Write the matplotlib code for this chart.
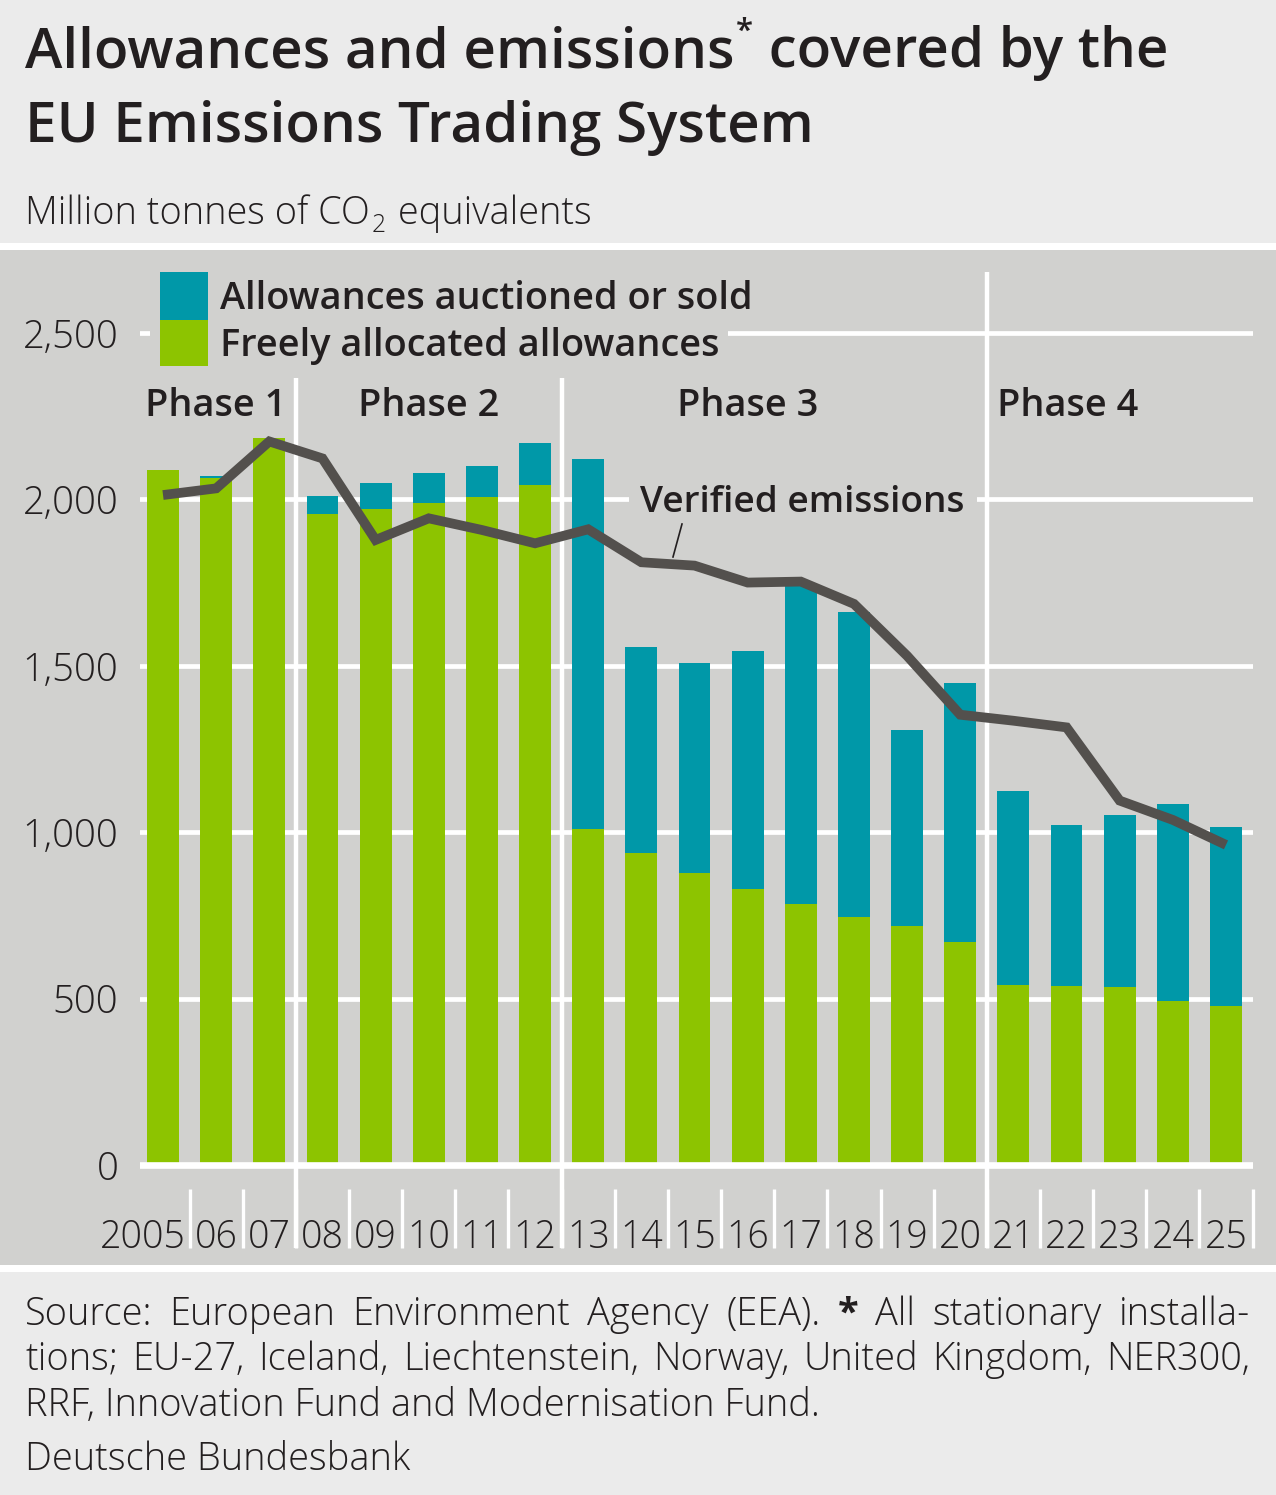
import matplotlib
matplotlib.use("Agg")
import matplotlib.pyplot as plt
from matplotlib.patches import Rectangle
from matplotlib.lines import Line2D
import numpy as np

# --- data (million tonnes CO2e) ---
years = ["2005", "06", "07", "08", "09", "10", "11", "12", "13", "14", "15",
         "16", "17", "18", "19", "20", "21", "22", "23", "24", "25"]
free_alloc = [2088, 2063, 2185, 1956, 1970, 1988, 2007, 2043, 1010, 937, 877,
              829, 784, 745, 718, 670, 541, 538, 534, 493, 478]
auctioned = [0, 7, 0, 54, 78, 92, 93, 125, 1110, 618, 630,
             716, 961, 918, 589, 779, 584, 483, 517, 592, 539]
verified = [2013, 2033, 2174, 2123, 1878, 1943, 1908, 1868, 1910, 1811, 1801,
            1750, 1753, 1686, 1530, 1353, 1335, 1315, 1095, 1037, 962]
phases = ["Phase 1", "Phase 2", "Phase 3", "Phase 4"]
phase_years = [3, 5, 8, 5]
yticks = [0, 500, 1000, 1500, 2000, 2500]
ytick_labels = ["0", "500", "1,000", "1,500", "2,000", "2,500"]

GREEN = "#8dc400"
TEAL = "#0098a8"
LINE = "#53504d"
TXT = "#231f20"
HEAD_BG = "#ebebeb"
PANEL_BG = "#d1d1cf"
FONT = "Open Sans"
LIGHT = "light"

W, H = 1276, 1495
plt.rcParams["font.family"] = [FONT, "DejaVu Sans"]

fig = plt.figure(figsize=(W / 100, H / 100), dpi=100)
fig.patch.set_facecolor("white")
renderer = fig.canvas.get_renderer()


def fx(px):
    return px / W


def fy(py):
    return 1 - py / H


def band(y0, y1, color, z=-5):
    fig.patches.append(Rectangle((0, fy(y1)), 1, (y1 - y0) / H, transform=fig.transFigure,
                                 facecolor=color, edgecolor="none", zorder=z))


def ftext(px, py, s, **kw):
    kw.setdefault("color", TXT)
    kw.setdefault("va", "baseline")
    return fig.text(fx(px), fy(py), s, **kw)


def width(t):
    return t.get_window_extent(renderer).width


def fit(t, target):
    t.set_fontsize(t.get_fontsize() * target / width(t))
    return t.get_fontsize()


# background bands
band(0, 243, HEAD_BG)
band(250, 1265, PANEL_BG)
band(1272, H, HEAD_BG)

# --- title ---
t2 = ftext(25, 142, "EU Emissions Trading System", fontsize=40, weight="semibold")
tsize = fit(t2, 787)
t1 = ftext(25, 67, "Allowances and emissions", fontsize=tsize, weight="semibold")
xa = 25 + width(t1)
ast = ftext(xa + 1, 40, "*", fontsize=tsize * 0.55, weight="semibold")
ftext(xa + width(ast) + 2, 67, " covered by the", fontsize=tsize, weight="semibold")

# subtitle
s1 = ftext(25, 224, "Million tonnes of CO", fontsize=26, weight=LIGHT)
ssize = fit(s1, 345)
sub = ftext(25 + width(s1) + 2, 232, "2", fontsize=ssize * 0.65, weight=LIGHT)
ftext(25 + width(s1) + width(sub) + 4, 224, " equivalents", fontsize=ssize, weight=LIGHT)

# --- chart axes ---
ax = fig.add_axes([fx(140), fy(1250), (1253 - 140) / W, (1250 - 272) / H])
ax.patch.set_alpha(0)
ax.set_xlim(-0.433, 20.508)
ax.set_ylim(-255, 2683)
for s in ax.spines.values():
    s.set_visible(False)
ax.set_xticks([])
ax.set_yticks(yticks, ytick_labels)
ax.tick_params(axis="y", length=0, pad=15.5, labelsize=27.5, labelcolor=TXT)
for lab in ax.get_yticklabels():
    lab.set_fontweight(LIGHT)

x = np.arange(len(years))

# gridlines
for v in yticks:
    ax.axhline(v, color="white", lw=4.8 if v == 0 else 3.4, zorder=1 if v else 2.5)

# bars
ax.bar(x, free_alloc, width=0.6, color=GREEN, linewidth=0, zorder=2)
ax.bar(x, auctioned, width=0.6, bottom=free_alloc, color=TEAL, linewidth=0, zorder=2)

# verified emissions line
ax.plot(x, verified, color=LINE, lw=7, zorder=4, solid_joinstyle="miter",
        solid_capstyle="butt")

# phase separators and year label separators
bounds = np.cumsum(phase_years)[:-1] - 0.5
xt = ax.get_xaxis_transform()
for i, b in enumerate(bounds):
    top = 1.0 if i == len(bounds) - 1 else (1250 - 378) / 978
    ax.plot([b, b], [0.002, top], transform=xt, color="white", lw=3.2, zorder=3,
            solid_capstyle="butt", clip_on=False)
for b in x + 0.5:
    ax.plot([b, b], [0.002, (1250 - 1189) / 978], transform=xt, color="white",
            lw=2.4, zorder=3, solid_capstyle="butt", clip_on=False)

# year labels
for i, lab in enumerate(years):
    if len(lab) == 4:
        ax.text(i + 0.42, 0.002, lab, transform=xt, ha="right", va="baseline",
                fontsize=27, color=TXT, weight=LIGHT)
    else:
        ax.text(i, 0.002, lab, transform=xt, ha="center", va="baseline",
                fontsize=27, color=TXT, weight=LIGHT)

starts = np.concatenate([[0], np.cumsum(phase_years)[:-1]])

# legend
fig.patches.append(Rectangle((fx(150), fy(341)), (728 - 150) / W, 16 / H,
                             transform=fig.transFigure, facecolor=PANEL_BG,
                             edgecolor="none", zorder=1))
fig.patches.append(Rectangle((fx(160), fy(320)), 48 / W, 48 / H, transform=fig.transFigure,
                             facecolor=TEAL, edgecolor="none", zorder=2))
fig.patches.append(Rectangle((fx(160), fy(366)), 48 / W, 46 / H, transform=fig.transFigure,
                             facecolor=GREEN, edgecolor="none", zorder=2))
l1 = ftext(220, 309, "Allowances auctioned or sold", fontsize=26, weight="semibold", zorder=3)
lsize = fit(l1, 532)
ftext(220, 356, "Freely allocated allowances", fontsize=lsize, weight="semibold", zorder=3)

# phase labels
for name, st, n in zip(phases, starts, phase_years):
    if name == "Phase 4":
        ax.text(st - 0.5 + 0.19, 2250, name, ha="left", va="baseline",
                fontsize=lsize, weight="semibold", color=TXT)
    elif name == "Phase 3":
        ax.text(st + (n - 1) / 2 - 0.5, 2250, name, ha="center", va="baseline",
                fontsize=lsize, weight="semibold", color=TXT)
    else:
        ax.text(st + (n - 1) / 2, 2250, name, ha="center", va="baseline",
                fontsize=lsize, weight="semibold", color=TXT)

# verified emissions label with gap in the gridline
fig.patches.append(Rectangle((fx(629), fy(504)), (977 - 629) / W, 10 / H,
                             transform=fig.transFigure, facecolor=PANEL_BG,
                             edgecolor="none", zorder=1))
ve = ftext(640, 512, "Verified emissions", fontsize=lsize, weight="semibold", zorder=3)
fit(ve, 325)
fig.lines.append(Line2D([fx(682), fx(673)], [fy(524), fy(557)], transform=fig.transFigure,
                        color=TXT, lw=1.2, zorder=3))

# --- footer (justified) ---
f3 = ftext(25, 1416, "RRF, Innovation Fund and Modernisation Fund.", fontsize=22, weight=LIGHT)
fsize = fit(f3, 793)
ftext(25, 1470, "Deutsche Bundesbank", fontsize=fsize, weight=LIGHT)


def justify(py, words, x0=25, x1=1250):
    ts = []
    for w in words:
        bold = w == "*"
        ts.append(ftext(0, py, w, fontsize=fsize, weight="bold" if bold else LIGHT))
    ws = [width(t) for t in ts]
    gap = (x1 - x0 - sum(ws)) / (len(ts) - 1)
    px = x0
    for t, w in zip(ts, ws):
        t.set_x(fx(px))
        px += w + gap


justify(1325, "Source: European Environment Agency (EEA). * All stationary installa-".split())
justify(1370, "tions; EU-27, Iceland, Liechtenstein, Norway, United Kingdom, NER300,".split())

fig.savefig("out.png", dpi=100, facecolor=fig.get_facecolor())
